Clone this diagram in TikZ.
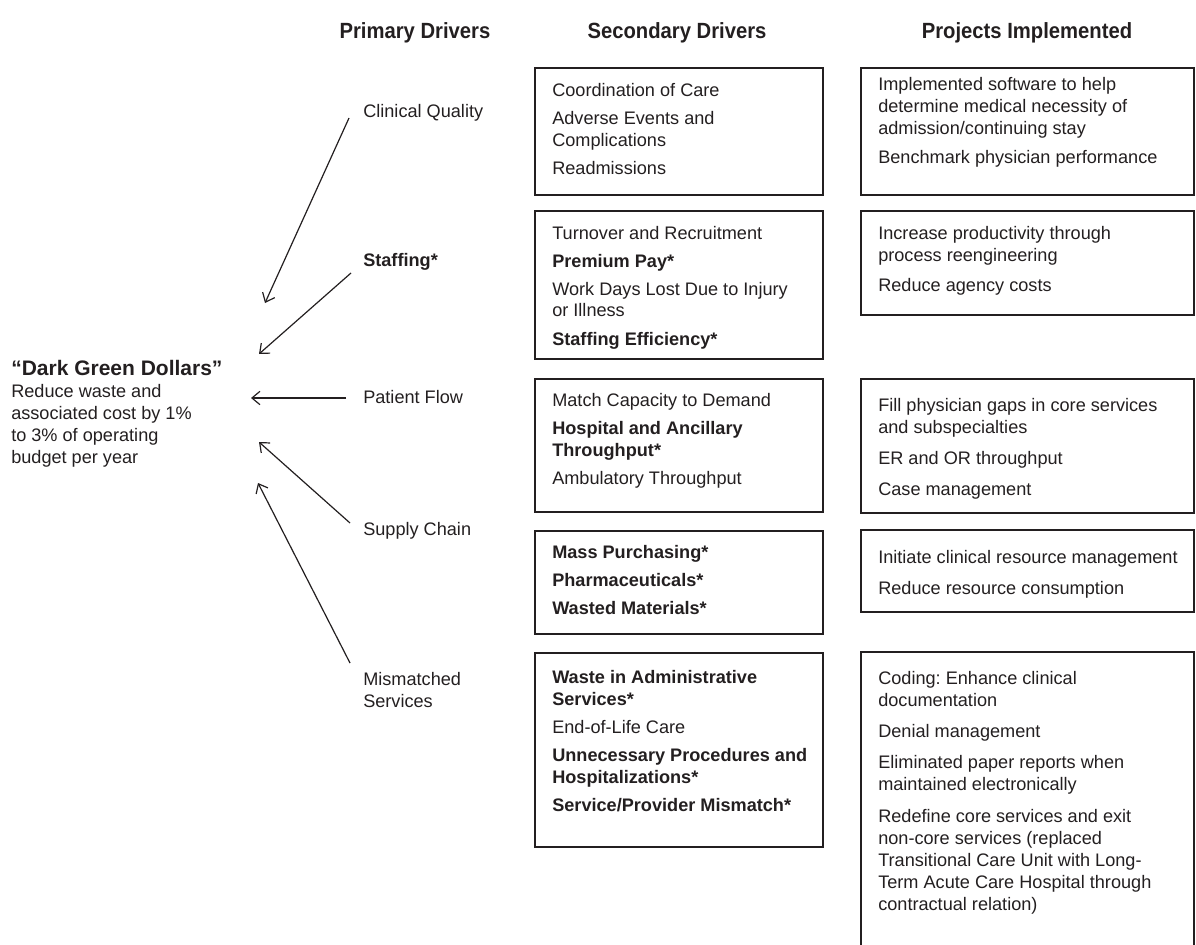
\documentclass[tikz,border=0pt]{standalone}
\usepackage{fontspec}
\setmainfont{Liberation Sans}
\newfontfamily\hdrfamily[FakeStretch=0.92]{Liberation Sans}
\usetikzlibrary{positioning,arrows.meta}
\frenchspacing

\newdimen\pxu \pxu=0.75pt
\definecolor{ink}{HTML}{231F20}
\newcommand{\txtfont}{\fontsize{13.6}{16.5}\selectfont}
\newcommand{\hdrfont}{\hdrfamily\bfseries\fontsize{16.5}{18}\selectfont}
% lines stacked from the baseline of the first one
\newcommand{\boxlines}[1]{\begin{tabular}[t]{@{}l@{}}#1\end{tabular}}

\tikzset{
  colhead/.style={font=\hdrfont, anchor=base, inner sep=0pt},
  driver/.style={font=\txtfont, anchor=base west, inner sep=0pt},
  secbox/.style={rectangle, draw, line width=1.4pt, minimum width=288\pxu, inner sep=0pt, outer sep=0pt},
  projbox/.style={rectangle, draw, line width=1.4pt, minimum width=333\pxu, inner sep=0pt, outer sep=0pt},
  boxtext/.style={font=\txtfont, anchor=base west, inner sep=0pt},
  pull/.style={line width=0.9pt, -{Straight Barb[length=6pt,width=10pt]}}
}

\begin{document}
\begin{tikzpicture}[x=0.75pt, y=-0.75pt, color=ink]
\useasboundingbox (0,0) rectangle (1196,945);

% column heads
\node[colhead] (hprim) at (415,39) {Primary Drivers};
\node[colhead] (hsec) at (677,39) {Secondary Drivers};
\node[colhead] (hproj) at (1027,39) {Projects Implemented};

% goal
\node[driver] (dollars) at (11,375) {\boxlines{{\fontsize{15.75}{16.5}\selectfont\bfseries “Dark Green Dollars”}\\
  Reduce waste and\\ associated cost by 1\%\\ to 3\% of operating\\ budget per year}};

% primary drivers
\node[driver] (quality) at (363,118) {Clinical Quality};
\node[driver] (staffing) at (363,267) {\textbf{Staffing*}};
\node[driver] (flow) at (363,403) {Patient Flow};
\node[driver] (supply) at (363,535) {Supply Chain};
\node[driver] (mismatch) at (363,685) {\boxlines{Mismatched\\ Services}};

% secondary drivers
\node[secbox, anchor=north west, minimum height=127\pxu] (sec1) at (535,68) {};
\node[secbox, minimum height=148\pxu, below=16\pxu of sec1] (sec2) {};
\node[secbox, minimum height=133\pxu, below=20\pxu of sec2] (sec3) {};
\node[secbox, minimum height=103\pxu, below=19\pxu of sec3] (sec4) {};
\node[secbox, minimum height=194\pxu, below=19\pxu of sec4] (sec5) {};

\node[boxtext] (sec1txt) at ([shift={(17,29)}]sec1.north west) {\boxlines{Coordination of Care\\[4.5pt]
  Adverse Events and\\ Complications\\[4.5pt] Readmissions}};
\node[boxtext] (sec2txt) at ([shift={(17,28)}]sec2.north west) {\boxlines{Turnover and Recruitment\\[4.5pt]
  \textbf{Premium Pay*}\\[4.5pt] Work Days Lost Due to Injury\\ or Illness\\[4.5pt] \textbf{Staffing Efficiency*}}};
\node[boxtext] (sec3txt) at ([shift={(17,27)}]sec3.north west) {\boxlines{Match Capacity to Demand\\[4.5pt]
  \textbf{Hospital and Ancillary}\\ \textbf{Throughput*}\\[4.5pt] Ambulatory Throughput}};
\node[boxtext] (sec4txt) at ([shift={(17,27)}]sec4.north west) {\boxlines{\textbf{Mass Purchasing*}\\[4.5pt]
  \textbf{Pharmaceuticals*}\\[4.5pt] \textbf{Wasted Materials*}}};
\node[boxtext] (sec5txt) at ([shift={(17,30)}]sec5.north west) {\boxlines{\textbf{Waste in Administrative}\\
  \textbf{Services*}\\[4.5pt] End-of-Life Care\\[4.5pt] \textbf{Unnecessary Procedures and}\\
  \textbf{Hospitalizations*}\\[4.5pt] \textbf{Service/Provider Mismatch*}}};

% projects
\node[projbox, anchor=north west, minimum height=127\pxu] (proj1) at (861,68) {};
\node[projbox, minimum height=104\pxu, below=16\pxu of proj1] (proj2) {};
\node[projbox, minimum height=134\pxu, below=64\pxu of proj2] (proj3) {};
\node[projbox, minimum height=82\pxu, below=17\pxu of proj3] (proj4) {};
\node[projbox, minimum height=296\pxu, below=40\pxu of proj4] (proj5) {};

\node[boxtext] (proj1txt) at ([shift={(17,23)}]proj1.north west) {\boxlines{Implemented software to help\\
  determine medical necessity of\\ admission/continuing stay\\[5pt] Benchmark physician performance}};
\node[boxtext] (proj2txt) at ([shift={(17,28)}]proj2.north west) {\boxlines{Increase productivity through\\
  process reengineering\\[6pt] Reduce agency costs}};
\node[boxtext] (proj3txt) at ([shift={(17,32)}]proj3.north west) {\boxlines{Fill physician gaps in core services\\
  and subspecialties\\[7pt] ER and OR throughput\\[7pt] Case management}};
\node[boxtext] (proj4txt) at ([shift={(17,33)}]proj4.north west) {\boxlines{Initiate clinical resource management\\[7pt]
  Reduce resource consumption}};
\node[boxtext] (proj5txt) at ([shift={(17,32)}]proj5.north west) {\boxlines{Coding: Enhance clinical\\ documentation\\[7pt]
  Denial management\\[7pt] Eliminated paper reports when\\ maintained electronically\\[7pt]
  Redefine core services and exit\\ non-core services (replaced\\ Transitional Care Unit with Long-\\
  Term Acute Care Hospital through\\ contractual relation)}};

% arrows into the goal
\coordinate (quality-from) at (349,118);
\coordinate (quality-to) at (265,303);
\coordinate (staffing-from) at (351,273);
\coordinate (staffing-to) at (259,354);
\coordinate (flow-from) at (346,398);
\coordinate (flow-to) at (251,398);
\coordinate (supply-from) at (350,523);
\coordinate (supply-to) at (259,442);
\coordinate (mismatch-from) at (350,663);
\coordinate (mismatch-to) at (258,483);

\draw[pull] (quality-from) -- (quality-to);
\draw[pull] (staffing-from) -- (staffing-to);
\draw[pull] (flow-from) -- (flow-to);
\draw[pull] (supply-from) -- (supply-to);
\draw[pull] (mismatch-from) -- (mismatch-to);
\end{tikzpicture}
\end{document}
